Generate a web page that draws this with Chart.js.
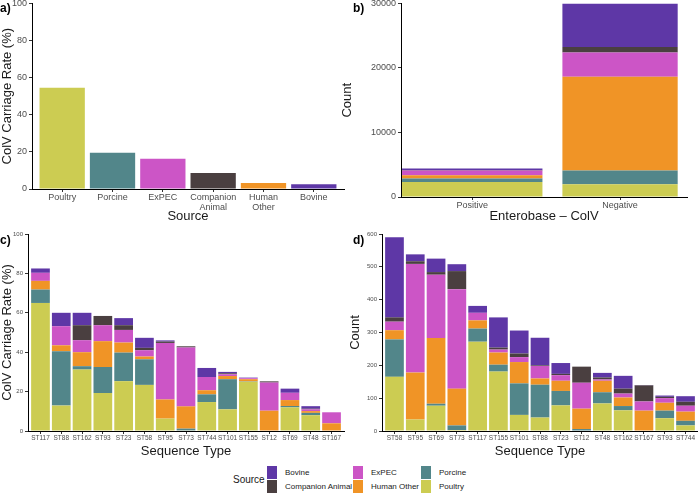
<!DOCTYPE html>
<html>
<head>
<meta charset="utf-8">
<script src="https://cdn.jsdelivr.net/npm/chart.js@4.4.1/dist/chart.umd.min.js"></script>
<style>
    body { margin: 0; background: #fff; width: 698px; height: 494px; position: relative; overflow: hidden; font-family: "Liberation Sans", Arial, sans-serif; }
    canvas { position: absolute; }
    .tag { position: absolute; font-weight: bold; font-size: 12px; color: #000; }
    .legend { position: absolute; font-size: 8px; color: #1a1a1a; white-space: nowrap; }
    .sw { position: absolute; width: 10px; height: 13px; }
</style>
</head>
<body>
<canvas id="chartA" width="348" height="228" style="left:0;top:-4px"></canvas>
<canvas id="chartB" width="358" height="228" style="left:340px;top:-4px"></canvas>
<canvas id="chartC" width="348" height="231" style="left:0;top:228px"></canvas>
<canvas id="chartD" width="350" height="231" style="left:348px;top:228px"></canvas>
<div class="tag" style="left:0;top:1px">a)</div>
<div class="tag" style="left:353px;top:1px">b)</div>
<div class="tag" style="left:0;top:233px">c)</div>
<div class="tag" style="left:353px;top:233px">d)</div>
<div id="legend"></div>
<script>
// источники в порядке стека (снизу вверх)
const sources = ['Poultry', 'Porcine', 'Human Other', 'ExPEC', 'Companion Animal', 'Bovine'];
const sourceColors = ['#cccc52', '#52868a', '#f09426', '#cc55c6', '#4a3f40', '#5e37a6'];

// a) доля носительства по источнику
const aLabels = ['Poultry', 'Porcine', 'ExPEC', 'Companion Animal', 'Human Other', 'Bovine'];
const aRates = [54.5, 19.5, 16.3, 8.6, 3.3, 2.6];
const aColors = ['#cccc52', '#52868a', '#cc55c6', '#4a3f40', '#f09426', '#5e37a6'];

// b) Enterobase - ColV, по источникам (порядок sources)
const bLabels = ['Positive', 'Negative'];
const bPositive = [2330, 520, 520, 720, 100, 210];
const bNegative = [1970, 2120, 14530, 3780, 830, 6770];

// c) доля по сиквенс-типам
const cTypes = ['ST117', 'ST88', 'ST162', 'ST93', 'ST23', 'ST58', 'ST95', 'ST73', 'ST744', 'ST101', 'ST155', 'ST12', 'ST69', 'ST48', 'ST167'];
const cPoultry = [65.0, 12.9, 31.2, 19.3, 25.3, 23.4, 6.3, 0.3, 14.7, 11.0, 25.0, 0, 12.0, 8.0, 0];
const cPorcine = [6.8, 27.6, 1.7, 13.2, 14.5, 13.0, 0, 0.9, 3.9, 15.3, 0.2, 0, 0.7, 1.2, 0];
const cHuman = [4.4, 3.0, 7.1, 13.1, 5.1, 1.4, 9.7, 11.3, 2.1, 1.6, 1.1, 10.3, 3.0, 0.9, 3.9];
const cExpec = [4.1, 9.7, 6.1, 8.1, 6.4, 3.2, 28.7, 29.9, 6.7, 0.9, 0.5, 14.3, 3.7, 0.9, 5.6];
const cCompanion = [0, 0, 7.6, 4.7, 2.4, 1.2, 0.7, 0.6, 0, 0.5, 0, 0.6, 0, 0.3, 0];
const cBovine = [2.2, 6.8, 6.3, 0, 3.6, 5.1, 0.6, 0, 4.6, 0.7, 0.3, 0, 2.1, 1.3, 0];

// d) количество по сиквенс-типам
const dTypes = ['ST58', 'ST95', 'ST69', 'ST73', 'ST117', 'ST155', 'ST101', 'ST88', 'ST23', 'ST12', 'ST48', 'ST162', 'ST167', 'ST93', 'ST744'];
const dPoultry = [165, 35, 77, 3, 272, 181, 49, 41, 78, 0, 84, 63, 0, 39, 17];
const dPorcine = [114, 0, 6, 14, 40, 21, 96, 100, 44, 6, 34, 13, 0, 23, 14];
const dHuman = [28, 143, 200, 112, 25, 37, 65, 19, 31, 62, 35, 26, 62, 24, 28];
const dExpec = [26, 331, 193, 303, 23, 9, 15, 38, 17, 79, 4, 12, 28, 14, 18];
const dCompanion = [13, 8, 8, 55, 0, 6, 11, 2, 4, 49, 6, 15, 49, 4, 12];
const dBovine = [244, 21, 41, 21, 21, 92, 70, 84, 33, 0, 14, 39, 1, 4, 17];

const legendOrder = ['Bovine', 'Companion Animal', 'ExPEC', 'Human Other', 'Porcine', 'Poultry'];

Chart.defaults.font.family = '"Liberation Sans", Arial, sans-serif';
Chart.defaults.color = '#4d4d4d';
Chart.defaults.animation = false;

function buildScales(o) {
    return {
        x: {
            type: 'linear',
            min: o.xMin,
            max: o.xMax,
            offset: false,
            stacked: true,
            afterBuildTicks: (axis) => { axis.ticks = o.labels.map((_, i) => ({ value: i })); },
            afterFit: (axis) => { axis.height = o.xHeight; },
            ticks: {
                autoSkip: false,
                maxRotation: 0,
                padding: 1,
                font: { size: o.xTickSize, lineHeight: 1.05 },
                callback: (v) => o.tickText ? o.tickText(v) : o.labels[v]
            },
            grid: { drawOnChartArea: false, offset: false, tickLength: 3, tickColor: '#333' },
            border: { display: true, color: '#000', width: 1 },
            title: { display: true, text: o.xTitle, color: '#1a1a1a', font: { size: 13 }, padding: { top: 0, bottom: 0 } }
        },
        y: {
            min: 0,
            max: o.yMax,
            stacked: true,
            afterFit: (axis) => { axis.width = o.yWidth; },
            ticks: { stepSize: o.yStep, padding: 2, font: { size: o.yTickSize }, callback: (v) => String(v) },
            grid: { drawOnChartArea: false, tickLength: 3, tickColor: '#333' },
            border: { display: true, color: '#000', width: 1 },
            title: { display: true, text: o.yTitle, color: '#1a1a1a', font: { size: 13 }, padding: { top: 0, bottom: 2 } }
        }
    };
}

function points(values) {
    return values.map((v, i) => ({ x: i, y: v }));
}

const baseOptions = (scales, pad) => ({
    responsive: false,
    layout: { padding: pad },
    plugins: { legend: { display: false }, tooltip: { enabled: false } },
    scales: scales
});

// a)
new Chart(document.getElementById('chartA'), {
    type: 'bar',
    data: {
        datasets: [{
            data: points(aRates),
            backgroundColor: aColors,
            barPercentage: 0.9,
            categoryPercentage: 1
        }]
    },
    options: baseOptions(buildScales({
        labels: aLabels, xMin: -0.6, xMax: 5.6, yMax: 100, yStep: 20,
        yTitle: 'ColV Carriage Rate (%)', xTitle: 'Source',
        yWidth: 32, xHeight: 35, xTickSize: 9, yTickSize: 9,
        tickText: (v) => aLabels[v] ? aLabels[v].split(' ') : ''
    }), { top: 3, right: 4, left: 0, bottom: 0 })
});

// b)
const bDatasets = [];
sources.forEach((s, i) => {
    bDatasets.push({
        label: s, data: [{ x: 0, y: bPositive[i] }],
        backgroundColor: sourceColors[i], barPercentage: 0.95, categoryPercentage: 1
    });
    bDatasets.push({
        label: s, data: [{ x: 1, y: bNegative[i] }],
        backgroundColor: sourceColors[i], barPercentage: 0.78, categoryPercentage: 1
    });
});
new Chart(document.getElementById('chartB'), {
    type: 'bar',
    data: { datasets: bDatasets },
    options: baseOptions(buildScales({
        labels: bLabels, xMin: -0.482, xMax: 1.453, yMax: 30000, yStep: 10000,
        yTitle: 'Count', xTitle: 'Enterobase \u2013 ColV',
        yWidth: 61, xHeight: 27, xTickSize: 9, yTickSize: 9
    }), { top: 3, right: 11, left: 0, bottom: 0 })
});

function stackedDatasets(series) {
    return series.map((vals, i) => ({
        label: sources[i],
        data: points(vals),
        backgroundColor: sourceColors[i],
        barPercentage: 0.9,
        categoryPercentage: 1
    }));
}

// c)
new Chart(document.getElementById('chartC'), {
    type: 'bar',
    data: { datasets: stackedDatasets([cPoultry, cPorcine, cHuman, cExpec, cCompanion, cBovine]) },
    options: baseOptions(buildScales({
        labels: cTypes, xMin: -0.6, xMax: 14.6, yMax: 100, yStep: 20,
        yTitle: 'ColV Carriage Rate (%)', xTitle: 'Sequence Type',
        yWidth: 28, xHeight: 28, xTickSize: 6.5, yTickSize: 6
    }), { top: 6, right: 4, left: 0, bottom: 0 })
});

// d)
new Chart(document.getElementById('chartD'), {
    type: 'bar',
    data: { datasets: stackedDatasets([dPoultry, dPorcine, dHuman, dExpec, dCompanion, dBovine]) },
    options: baseOptions(buildScales({
        labels: dTypes, xMin: -0.6, xMax: 14.6, yMax: 600, yStep: 100,
        yTitle: 'Count', xTitle: 'Sequence Type',
        yWidth: 34, xHeight: 28, xTickSize: 6.5, yTickSize: 6
    }), { top: 6, right: 0, left: 0, bottom: 0 })
});

// легенда
const legend = document.getElementById('legend');
legend.innerHTML = '<div class="legend" style="left:233px;top:474px;font-size:10px">Source</div>' +
    legendOrder.map((name, i) => {
        const col = Math.floor(i / 2);
        const row = i % 2;
        const left = [267, 353, 421][col];
        const top = 466 + row * 14;
        const color = sourceColors[sources.indexOf(name)];
        return `<div class="sw" style="left:${left}px;top:${top}px;background:${color}"></div>` +
            `<div class="legend" style="left:${left + 18}px;top:${top + 2}px">${name}</div>`;
    }).join('');
</script>
</body>
</html>
